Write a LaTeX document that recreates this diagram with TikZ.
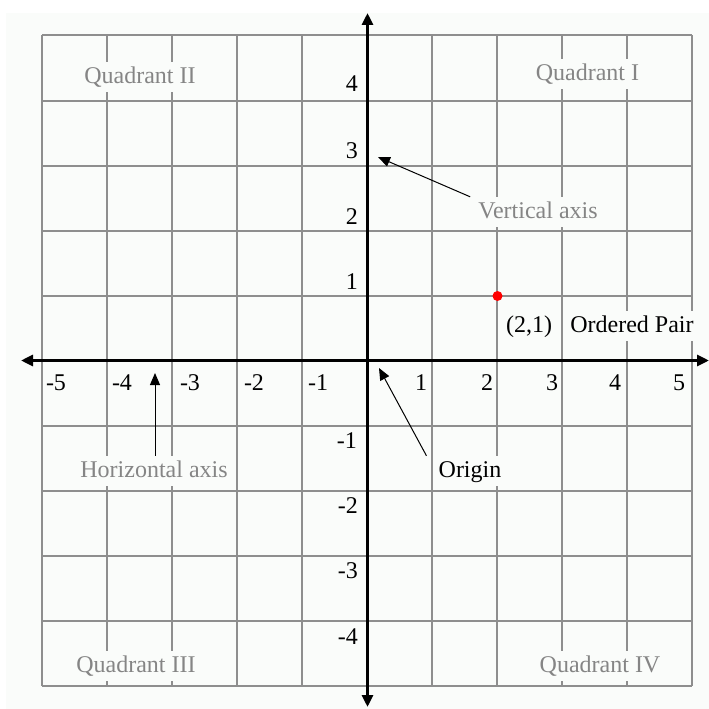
\documentclass[tikz,border=0pt]{standalone}
\usepackage{fontspec}
\setmainfont{Liberation Serif}
\usetikzlibrary{arrows.meta}
\definecolor{bgc}{HTML}{FAFCFA}
\definecolor{gridc}{HTML}{8E8E8E}
\definecolor{labc}{HTML}{858585}
\begin{document}
\begin{tikzpicture}[x=1pt,y=-1pt,
  txt/.style={font=\fontsize{24}{28}\selectfont, inner sep=0pt, anchor=base},
  boxed/.style={txt, fill=bgc, inner xsep=3pt, inner ysep=4pt, text height=17pt, text depth=5pt},
  graylab/.style={boxed, text=labc},
  blacklab/.style={boxed, text=black},
  numx/.style={txt, anchor=base},
  numy/.style={txt, anchor=base east},
  gridline/.style={draw=gridc, line width=2pt},
  axisline/.style={line width=3.3pt, {Triangle[length=12pt,width=11pt]}-{Triangle[length=12pt,width=11pt]}},
  annot/.style={line width=1pt, -{Triangle[length=12pt,width=10pt]}}]
\useasboundingbox (0,0) rectangle (709,709);
\fill[bgc] (6,13) rectangle (709,709);
% grid
\foreach \i in {0,...,10} {
  \draw[gridline] ({42+65*\i},35.5) -- ({42+65*\i},685.5);
  \draw[gridline] (42,{35.5+65*\i}) -- (692,{35.5+65*\i});
}
% axes
\coordinate (xl) at (21,360.5);
\coordinate (xr) at (709,360.5);
\coordinate (yt) at (367.5,13);
\coordinate (yb) at (367.5,707);
\draw[axisline] (xl) -- (xr);
\draw[axisline] (yt) -- (yb);
% x-axis numbers
\node[numx] (xm5) at (56,390) {-5};
\node[numx] (xm4) at (122,390) {-4};
\node[numx] (xm3) at (190,390) {-3};
\node[numx] (xm2) at (254,390) {-2};
\node[numx] (xm1) at (318,390) {-1};
\node[numx] (xp1) at (421,390) {1};
\node[numx] (xp2) at (487,390) {2};
\node[numx] (xp3) at (552,390) {3};
\node[numx] (xp4) at (615,390) {4};
\node[numx] (xp5) at (679,390) {5};
% y-axis numbers
\node[numy] (yp4) at (358,92) {4};
\node[numy] (yp3) at (358,158) {3};
\node[numy] (yp2) at (358,224) {2};
\node[numy] (yp1) at (358,289) {1};
\node[numy] (ym1) at (357,448) {-1};
\node[numy] (ym2) at (358,513) {-2};
\node[numy] (ym3) at (358,578) {-3};
\node[numy] (ym4) at (358,644) {-4};
% quadrant labels
\node[graylab] (q2) at (140,83) {Quadrant II};
\node[graylab] (q1) at (587.5,80) {Quadrant I};
\node[graylab] (q3) at (136,672) {Quadrant III};
\node[graylab] (q4) at (600,672) {Quadrant IV};
% annotations
\node[graylab] (vlab) at (538,218) {Vertical axis};
\node[graylab] (hlab) at (154,477) {Horizontal axis};
\node[blacklab] (olab) at (470,477) {Origin};
\node[blacklab] (plab) at (529,332) {(2,1)};
\node[blacklab] (oplab) at (632,332) {Ordered Pair};
% point
\node[circle, fill=red, minimum size=10pt, inner sep=0pt] (pt) at (497.5,296) {};
% arrows
\coordinate (vtip) at (378,157);
\coordinate (htip) at (155,373);
\coordinate (otip) at (379,368);
\draw[annot] ([xshift=-5pt]vlab.north west) -- (vtip);
\draw[annot] ([xshift=1pt]hlab.north) -- (htip);
\draw[annot] ([xshift=-9pt]olab.north west) -- (otip);
\end{tikzpicture}
\end{document}
